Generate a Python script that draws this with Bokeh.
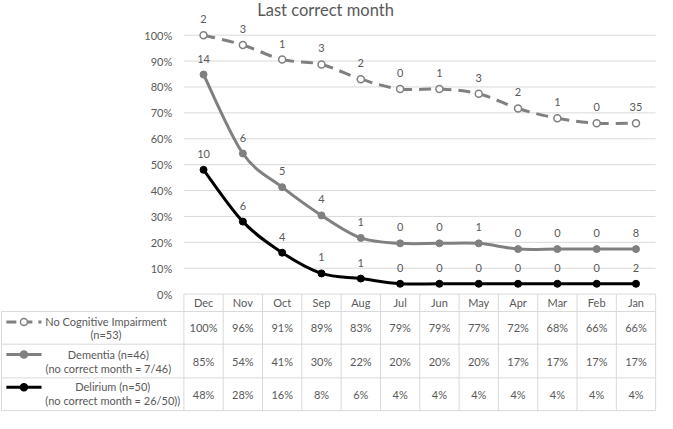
from bokeh.plotting import figure
from bokeh.models import Range1d
from bokeh.core.properties import value
from bokeh.embed import file_html
from bokeh.resources import INLINE

# ---------------- data ----------------
months = ["Dec", "Nov", "Oct", "Sep", "Aug", "Jul", "Jun", "May", "Apr", "Mar", "Feb", "Jan"]
nci_pct = [100.0, 96.2, 90.6, 88.7, 83.0, 79.2, 79.2, 77.4, 71.7, 67.9, 66.0, 66.0]
dem_pct = [84.8, 54.3, 41.3, 30.4, 21.7, 19.6, 19.6, 19.6, 17.4, 17.4, 17.4, 17.4]
del_pct = [48.0, 28.0, 16.0, 8.0, 6.0, 4.0, 4.0, 4.0, 4.0, 4.0, 4.0, 4.0]
nci_counts = [2, 3, 1, 3, 2, 0, 1, 3, 2, 1, 0, 35]
dem_counts = [14, 6, 5, 4, 1, 0, 0, 1, 0, 0, 0, 8]
del_counts = [10, 6, 4, 1, 1, 0, 0, 0, 0, 0, 0, 2]
y_ticks = [0, 10, 20, 30, 40, 50, 60, 70, 80, 90, 100]
title_text = "Last correct month"
nci_label = ["No Cognitive Impairment", "(n=53)"]
dem_label = ["Dementia (n=46)", "(no correct month = 7/46)"]
del_label = ["Delirium (n=50)", "(no correct month = 26/50))"]

# ---------------- layout helpers (reference pixel -> data units) ----------------
X0, DX = 208.0, 40.27     # Dec centre, category width
Y0, DY = 305.0, 2.69      # 0% line, px per percent


def fx(px):
    return (px - X0) / DX


def fy(py):
    return (Y0 - py) / DY


TXT = "#595959"
GRID = "#d9d9d9"
GREY = "#808080"
BLACK = "#000000"
FONT = value("Lato")

p = figure(width=657, height=413, output_backend="svg", toolbar_location=None,
           x_range=Range1d(fx(0), fx(673)), y_range=Range1d(fy(429), fy(0)),
           x_axis_location=None, y_axis_location=None, min_border=0)
p.outline_line_color = None
p.xgrid.visible = False
p.ygrid.visible = False
p.background_fill_color = "white"
p.border_fill_color = "white"

xs = list(range(len(months)))

# ---------------- gridlines & table lines ----------------
gx0, gx1 = fx(188), fx(671)
p.segment(x0=[gx0] * len(y_ticks), y0=y_ticks, x1=[gx1] * len(y_ticks), y1=y_ticks,
          line_color=GRID, line_width=1)
row_lines = [fy(323), fy(357), fy(392), fy(426)]
p.segment(x0=[fx(1)] * len(row_lines), y0=row_lines, x1=[gx1] * len(row_lines), y1=row_lines,
          line_color=GRID, line_width=1)
vx = [k - 0.5 for k in range(len(months) + 1)]
p.segment(x0=vx, y0=[0] * len(vx), x1=vx, y1=[fy(426)] * len(vx), line_color=GRID, line_width=1)
p.segment(x0=[fx(1)], y0=[fy(323)], x1=[fx(1)], y1=[fy(426)], line_color=GRID, line_width=1)

# y tick labels
p.text(x=[fx(176)] * len(y_ticks), y=y_ticks, text=[f"{t}%" for t in y_ticks],
       text_align="right", text_baseline="middle", text_font=FONT,
       text_font_size="11px", text_color=TXT)

# title
p.text(x=[fx(333)], y=[fy(10)], text=[title_text], text_align="center", text_baseline="middle",
       text_font=FONT, text_font_size="16.5px", text_color=TXT)


# ---------------- series ----------------
def smooth_bezier(ys, color, dash="solid"):
    n = len(ys)
    x0, y0, x1, y1, cx0, cy0, cx1, cy1 = [], [], [], [], [], [], [], []
    for i in range(n - 1):
        a = i - 1 if i > 0 else i
        d = i + 2 if i + 2 < n else i + 1
        x0.append(xs[i]); y0.append(ys[i]); x1.append(xs[i + 1]); y1.append(ys[i + 1])
        cx0.append(xs[i] + (xs[i + 1] - xs[a]) / 6.0)
        cy0.append(ys[i] + (ys[i + 1] - ys[a]) / 6.0)
        cx1.append(xs[i + 1] - (xs[d] - xs[i]) / 6.0)
        cy1.append(ys[i + 1] - (ys[d] - ys[i]) / 6.0)
    p.bezier(x0=x0, y0=y0, x1=x1, y1=y1, cx0=cx0, cy0=cy0, cx1=cx1, cy1=cy1,
             line_color=color, line_width=3, line_dash=dash)


smooth_bezier(nci_pct, GREY, "12 7")
smooth_bezier(dem_pct, GREY)
smooth_bezier(del_pct, BLACK)

p.scatter(x=xs, y=nci_pct, marker="circle", size=7, fill_color="white", line_color=GREY, line_width=1.5)
p.scatter(x=xs, y=dem_pct, marker="circle", size=7, fill_color=GREY, line_color=GREY)
p.scatter(x=xs, y=del_pct, marker="circle", size=7, fill_color=BLACK, line_color=BLACK)

for ys, counts in ((nci_pct, nci_counts), (dem_pct, dem_counts), (del_pct, del_counts)):
    p.text(x=xs, y=ys, text=[str(c) for c in counts], y_offset=-16, text_align="center",
           text_baseline="middle", text_font=FONT, text_font_size="11px", text_color=TXT)

# ---------------- data table ----------------
p.text(x=xs, y=[fy(313.5)] * len(xs), text=months, text_align="center", text_baseline="middle",
       text_font=FONT, text_font_size="11px", text_color=TXT)
for ys, ry in ((nci_pct, 340), (dem_pct, 374.5), (del_pct, 409)):
    p.text(x=xs, y=[fy(ry)] * len(xs), text=[f"{round(v)}%" for v in ys], text_align="center",
           text_baseline="middle", text_font=FONT, text_font_size="11px", text_color=TXT)

# legend keys
keys = [(334, GREY, "10 6", "white"), (367.7, GREY, "solid", GREY), (401.7, BLACK, "solid", BLACK)]
for ky, col, dash, fill in keys:
    p.line(x=[fx(6), fx(42)], y=[fy(ky), fy(ky)], line_color=col, line_width=3, line_dash=dash)
    p.scatter(x=[fx(24)], y=[fy(ky)], marker="circle", size=7, fill_color=fill, line_color=col,
              line_width=1.5)

legend_rows = [(nci_label, 108, 333.5, 346.7), (dem_label, 110.5, 367.7, 382.3),
               (del_label, 115, 401.2, 415.7)]
for lines, cx, ya, yb in legend_rows:
    p.text(x=[fx(cx), fx(cx)], y=[fy(ya), fy(yb)], text=lines, text_align="center",
           text_baseline="middle", text_font=FONT, text_font_size="11px", text_color=TXT)

open("out.html", "w").write(file_html(p, INLINE))
